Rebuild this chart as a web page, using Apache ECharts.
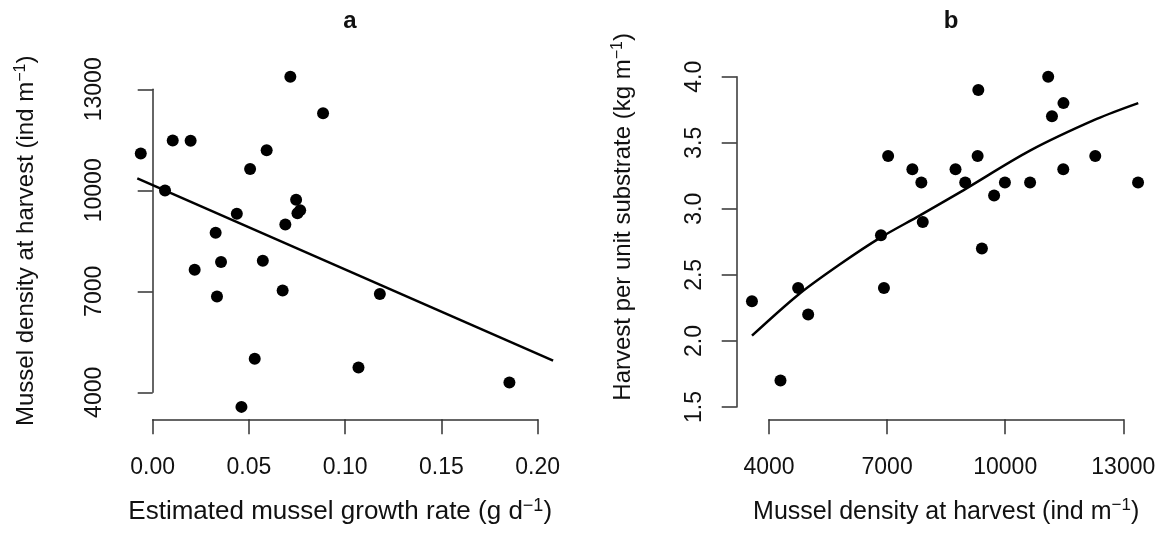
<!DOCTYPE html>
<html>
<head>
<meta charset="utf-8">
<script src="https://cdn.jsdelivr.net/npm/echarts@6/dist/echarts.min.js"></script>
<style>
  html, body { margin: 0; padding: 0; background: #fff; }
  #chart { width: 1165px; height: 539px; }
</style>
</head>
<body>
<div id="chart"></div>
<script>
// density is shared by both panels (one mussel line per entry)
let density = [13375, 12288, 11480, 11475, 11188, 11092, 10632, 9993, 9718, 9408, 9317, 9300,
               8984, 8738, 7906, 7870, 7642, 7026, 6920, 6844, 4995, 4740, 4292, 3567];
let growth = [0.0715, 0.0885, 0.0104, 0.0197, 0.0592, -0.0062, 0.0506, 0.0064, 0.0745, 0.0766, 0.0752, 0.0437,
              0.0689, 0.0327, 0.0572, 0.0355, 0.0218, 0.0675, 0.1180, 0.0334, 0.0530, 0.1069, 0.1853, 0.0461];
let harvest = [3.2, 3.4, 3.8, 3.3, 3.7, 4.0, 3.2, 3.2, 3.1, 2.7, 3.9, 3.4,
               3.2, 3.3, 2.9, 3.2, 3.3, 3.4, 2.4, 2.8, 2.2, 2.4, 1.7, 2.3];

// fitted lines
let growthFit = [[-0.008, 10356], [0.208, 4939]];
let harvestFit = [[3568, 2.04], [4744, 2.35], [5803, 2.58], [6819, 2.78], [7835, 2.95],
                  [8935, 3.14], [10629, 3.44], [12324, 3.68], [13380, 3.80]];

// axis ticks
let growthTicks = { min: 0, max: 0.2, interval: 0.05 };
let densityTicks = { min: 4000, max: 13000, interval: 3000 };
let harvestTicks = { min: 1.5, max: 4.0, interval: 0.5 };

let titles = ["a", "b"];
let font = "Liberation Sans, Arial, Helvetica, sans-serif";
let ink = "#111";
let axisInk = "#333";

// pixel layout of the tick ranges (axes) and the wider plotting areas (data)
// plot areas are the tick boxes stretched with the same scale, so lines are not clipped
let boxA = { left: 152.7, top: 89.3, width: 385, height: 303 };
let boxB = { left: 769, top: 76.7, width: 354.3, height: 330.3 };

let rangeA = { x: [-0.03, 0.23], y: [2000, 15000] };
let rangeB = { x: [3000, 14000], y: [1.0, 4.5] };

function widen(box, xr, yr, wide) {
    let sx = box.width / (xr.max - xr.min);
    let sy = box.height / (yr.max - yr.min);
    return {
        left: box.left - (xr.min - wide.x[0]) * sx,
        width: (wide.x[1] - wide.x[0]) * sx,
        top: box.top - (wide.y[1] - yr.max) * sy,
        height: (wide.y[1] - wide.y[0]) * sy
    };
}

let dataA = widen(boxA, growthTicks, densityTicks, rangeA);
let dataB = widen(boxB, densityTicks, harvestTicks, rangeB);

function rich(size) {
    return {
        n: { fontSize: size, fontFamily: font, color: ink, lineHeight: size + 4 },
        s: { fontSize: Math.round(size * 0.68), fontFamily: font, color: ink, verticalAlign: "top",
             lineHeight: size + 4, padding: [0, 0, 9, 0] }
    };
}

function axisStyle(extra) {
    return Object.assign({
        type: "value",
        axisLine: { show: true, lineStyle: { color: axisInk, width: 1.5 } },
        axisTick: { show: true, length: 15, lineStyle: { color: axisInk, width: 1.5 } },
        splitLine: { show: false },
        nameLocation: "middle"
    }, extra);
}

function hiddenAxis(grid, range) {
    return { type: "value", gridIndex: grid, min: range[0], max: range[1], show: false };
}

let chart = echarts.init(document.getElementById("chart"));

let option = {
    animation: false,
    backgroundColor: "#fff",
    title: [
        { text: titles[0], left: 345, top: 4, textAlign: "center",
          textStyle: { fontFamily: font, fontSize: 24, fontWeight: "bold", color: ink } },
        { text: titles[1], left: 946, top: 4, textAlign: "center",
          textStyle: { fontFamily: font, fontSize: 24, fontWeight: "bold", color: ink } }
    ],
    grid: [boxA, boxB, dataA, dataB],
    xAxis: [
        axisStyle({
            gridIndex: 0, min: growthTicks.min, max: growthTicks.max, interval: growthTicks.interval,
            offset: 27,
            axisLabel: { margin: 37, fontSize: 23, fontFamily: font, color: ink,
                         formatter: v => v.toFixed(2) },
            name: "{n|Estimated mussel growth rate (g d}{s|−1}{n|)}",
            nameGap: 78,
            nameTextStyle: { rich: rich(26), padding: [0, 10, 0, 0] }
        }),
        axisStyle({
            gridIndex: 1, min: densityTicks.min, max: densityTicks.max, interval: densityTicks.interval,
            offset: 12.3,
            axisLabel: { margin: 37, fontSize: 23, fontFamily: font, color: ink,
                         formatter: v => String(v) },
            name: "{n|Mussel density at harvest (ind m}{s|−1}{n|)}",
            nameGap: 78,
            nameTextStyle: { rich: rich(25) }
        }),
        hiddenAxis(2, rangeA.x),
        hiddenAxis(3, rangeB.x)
    ],
    yAxis: [
        axisStyle({
            gridIndex: 0, min: densityTicks.min, max: densityTicks.max, interval: densityTicks.interval,
            offset: 16,
            axisLabel: { margin: 31, rotate: 90, fontSize: 23, fontFamily: font, color: ink,
                         formatter: v => String(v) },
            name: "{n|Mussel density at harvest (ind m}{s|−1}{n|)}",
            nameGap: 96,
            nameTextStyle: { rich: rich(24) }
        }),
        axisStyle({
            gridIndex: 1, min: harvestTicks.min, max: harvestTicks.max, interval: harvestTicks.interval,
            offset: 32.3,
            axisLabel: { margin: 31, rotate: 90, fontSize: 23, fontFamily: font, color: ink,
                         formatter: v => v.toFixed(1) },
            name: "{n|Harvest per unit substrate (kg m}{s|−1}{n|)}",
            nameGap: 99,
            nameTextStyle: { rich: rich(24), padding: [0, 0, 0, 50] }
        }),
        hiddenAxis(2, rangeA.y),
        hiddenAxis(3, rangeB.y)
    ],
    series: [
        {
            type: "scatter", xAxisIndex: 2, yAxisIndex: 2,
            symbol: "circle", symbolSize: 12,
            itemStyle: { color: "#000", opacity: 1 },
            data: density.map((d, i) => [growth[i], d])
        },
        {
            type: "line", xAxisIndex: 2, yAxisIndex: 2,
            showSymbol: false, lineStyle: { color: "#000", width: 2.5 },
            data: growthFit
        },
        {
            type: "scatter", xAxisIndex: 3, yAxisIndex: 3,
            symbol: "circle", symbolSize: 12,
            itemStyle: { color: "#000", opacity: 1 },
            data: density.map((d, i) => [d, harvest[i]])
        },
        {
            type: "line", xAxisIndex: 3, yAxisIndex: 3,
            showSymbol: false, smooth: 0.3, lineStyle: { color: "#000", width: 2.5 },
            data: harvestFit
        }
    ]
};

chart.setOption(option);
</script>
</body>
</html>
